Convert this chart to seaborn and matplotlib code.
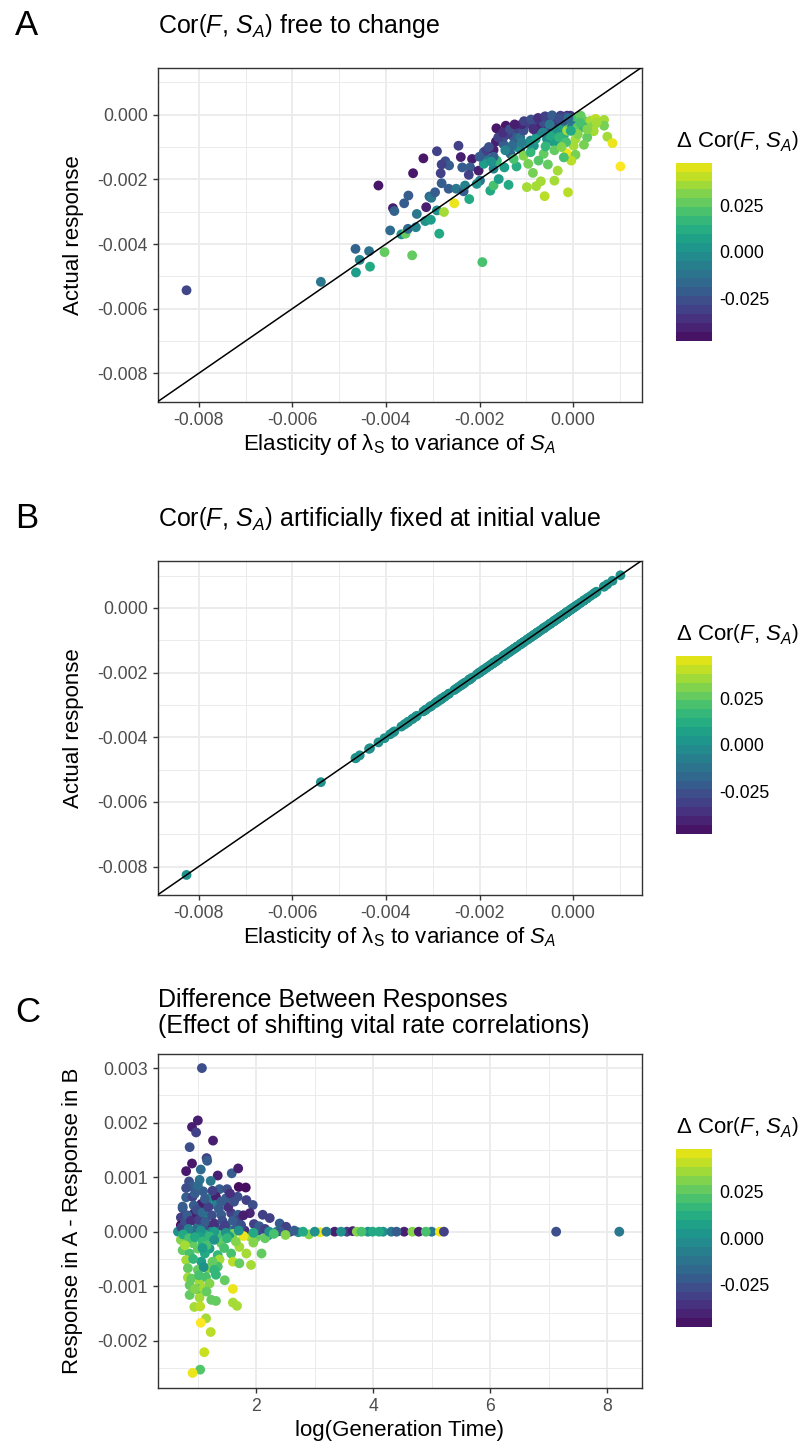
import numpy as np
import pandas as pd
import matplotlib
matplotlib.use('Agg')
import matplotlib.pyplot as plt
from matplotlib.colors import ListedColormap, Normalize
from matplotlib.ticker import MultipleLocator, FormatStrFormatter
import seaborn as sns

# ---------------------------------------------------------------------------
# Data
# ---------------------------------------------------------------------------

# Panel A: elasticity (x), actual response (y), change in Cor(F, S_A) (colour)
a_elasticity = [
    -0.00826, -0.00539, -0.00465, -0.00436, -0.00456, -0.00464, -0.00434, -0.00403,
    -0.00344, -0.00194, -0.00286, -0.00391, -0.00367, -0.00358, -0.00353, -0.00336,
    -0.00316, -0.00304, -0.00334, -0.00385, -0.00382, -0.00361, -0.00352, -0.00314,
    -0.00307, -0.00303, -0.00295, -0.00291, -0.00276, -0.00254, -0.00416, -0.00342,
    -0.00320, -0.00291, -0.00245, -0.00240, -0.00216, -0.00273, -0.00265, -0.00281,
    -0.00283, -0.00281, -0.00266, -0.00250, -0.00234, -0.00231, -0.00237, -0.00220,
    -0.00223, -0.00222, -0.00202, -0.00199, -0.00206, -0.00177, -0.00170, -0.00159,
    -0.00138, -0.00099, -0.00079, -0.00061, -0.00011, -0.00040, -0.00069, -0.00033,
    -0.00086, -0.00054, -0.00096, -0.00121, -0.00147, -0.00170, -0.00184, -0.00191,
    -0.00186, -0.00170, -0.00165, -0.00164, -0.00144, -0.00120, -0.00120, -0.00099,
    -0.00081, -0.00049, -0.00027, -0.00006, -0.00049, -0.00063, -0.00149, -0.00134,
    -0.00113, -0.00091, -0.00077, -0.00056, -0.00041, -0.00020, -0.00027, -0.00013,
    -0.00013, 0.00001, 0.00016, 0.00023, 0.00037, 0.00044, 0.00048, 0.00066,
    0.00066, 0.00044, 0.00030, 0.00023, 0.00005, 0.00001, -0.00014, 0.00005,
    -0.00004, -0.00020, 0.00073, 0.00084, 0.00101, -0.00063, -0.00059, -0.00034,
    -0.00084, -0.00106, -0.00127, -0.00163, -0.00191, -0.00149, -0.00127, -0.00113,
    -0.00106, -0.00077, -0.00070, -0.00063, -0.00041, -0.00020, -0.00013, -0.00038,
    -0.00049, -0.00002, 0.00009, 0.00023, -0.00091, -0.00074, -0.00035, -0.00015,
    -0.00085, -0.00110, -0.00140, -0.00170, -0.00120,
    -0.00160, -0.00150, -0.00135, -0.00125, -0.00105, -0.00090, -0.00075, -0.00060,
    -0.00045, -0.00030, -0.00010, -0.00050, -0.00065, -0.00080, -0.00095, -0.00110,
    -0.00130, -0.00145, -0.00030, -0.00015, 0.00010, 0.00015, 0.00030, -0.00005,
    -0.00040, -0.00025, 0.00050, -0.00180, -0.00200, -0.00175,
]
a_response = [
    -0.00543, -0.00517, -0.00415, -0.00422, -0.00449, -0.00488, -0.00470, -0.00425,
    -0.00435, -0.00456, -0.00368, -0.00358, -0.00370, -0.00368, -0.00353, -0.00348,
    -0.00329, -0.00325, -0.00307, -0.00289, -0.00298, -0.00274, -0.00250, -0.00286,
    -0.00253, -0.00257, -0.00240, -0.00296, -0.00301, -0.00274, -0.00219, -0.00181,
    -0.00135, -0.00113, -0.00096, -0.00131, -0.00137, -0.00144, -0.00157, -0.00154,
    -0.00181, -0.00212, -0.00229, -0.00229, -0.00237, -0.00219, -0.00163, -0.00163,
    -0.00186, -0.00261, -0.00173, -0.00204, -0.00214, -0.00235, -0.00219, -0.00199,
    -0.00217, -0.00224, -0.00221, -0.00252, -0.00240, -0.00204, -0.00206, -0.00173,
    -0.00180, -0.00154, -0.00152, -0.00160, -0.00163, -0.00167, -0.00137, -0.00116,
    -0.00111, -0.00109, -0.00083, -0.00042, -0.00034, -0.00049, -0.00085, -0.00029,
    -0.00034, -0.00008, -0.00003, -0.00003, -0.00044, -0.00049, -0.00091, -0.00121,
    -0.00106, -0.00080, -0.00060, -0.00075, -0.00085, -0.00065, -0.00039, -0.00049,
    -0.00024, -0.00013, -0.00003, -0.00019, -0.00019, -0.00034, -0.00013, -0.00016,
    -0.00034, -0.00051, -0.00070, -0.00093, -0.00075, -0.00096, -0.00119, -0.00124,
    -0.00142, -0.00132, -0.00068, -0.00088, -0.00160, -0.00121, -0.00098, -0.00096,
    -0.00096, -0.00127, -0.00137, -0.00142, -0.00152, -0.00070, -0.00070, -0.00070,
    -0.00049, -0.00029, -0.00039, -0.00024, -0.00024, -0.00019, -0.00003, -0.00054,
    -0.00065, -0.00034, -0.00039, -0.00039, -0.00116, -0.00142, -0.00010, -0.00008,
    -0.00045, -0.00030, -0.00060, -0.00130, -0.00100,
    -0.00070, -0.00055, -0.00045, -0.00030, -0.00020, -0.00015, -0.00010, -0.00005,
    -0.00002, -0.00012, -0.00010, -0.00030, -0.00055, -0.00075, -0.00090, -0.00085,
    -0.00095, -0.00110, -0.00070, -0.00085, -0.00060, -0.00025, -0.00045, -0.00050,
    -0.00110, -0.00100, -0.00025, -0.00100, -0.00130, -0.00145,
]
a_delta_cor = [
    -0.028, -0.010, -0.018, -0.012, -0.005, 0.005, 0.010, 0.025,
    0.025, 0.020, 0.010, -0.015, 0.000, 0.025, -0.015, -0.005,
    0.000, 0.005, -0.010, -0.040, -0.018, -0.020, -0.020, -0.040,
    -0.015, -0.010, -0.020, 0.000, 0.035, 0.045, -0.042, -0.042,
    -0.042, -0.030, -0.030, -0.040, -0.040, -0.025, -0.020, -0.030,
    -0.030, -0.020, -0.020, -0.010, -0.020, -0.005, -0.020, -0.020,
    -0.030, 0.010, -0.040, -0.010, 0.000, 0.010, 0.020, 0.005,
    0.010, 0.035, 0.035, 0.038, 0.038, 0.035, 0.035, 0.035,
    0.028, 0.025, 0.028, 0.012, 0.005, -0.005, -0.010, -0.020,
    -0.030, -0.040, -0.040, -0.042, -0.042, -0.030, -0.040, -0.030,
    -0.040, -0.030, -0.030, -0.032, -0.040, -0.020, -0.020, -0.018,
    -0.010, -0.005, -0.010, 0.000, 0.005, 0.012, 0.005, 0.035,
    0.025, 0.020, 0.025, 0.025, 0.035, 0.030, 0.038, 0.035,
    0.028, 0.035, 0.025, 0.028, 0.035, 0.035, 0.045, 0.028,
    0.038, 0.020, 0.035, 0.045, 0.048, 0.025, 0.015, 0.005,
    0.000, 0.030, 0.020, 0.015, 0.005, -0.025, -0.020, -0.012,
    -0.025, -0.030, -0.038, -0.025, -0.032, -0.020, -0.035, 0.000,
    0.010, -0.010, 0.025, 0.015, 0.015, 0.022, -0.030, -0.025,
    -0.035, -0.038, -0.030, -0.020, 0.000,
    -0.030, -0.035, -0.025, -0.040, -0.030, -0.025, -0.035, -0.030,
    -0.020, -0.025, -0.015, -0.010, -0.005, 0.005, 0.000, -0.008,
    -0.015, -0.005, 0.015, 0.020, 0.030, 0.020, 0.030, 0.010,
    0.025, 0.030, 0.035, -0.025, -0.020, 0.000,
]

# Panel B: same species, correlation held fixed -> points sit on the 1:1 line
b_elasticity = a_elasticity
b_response = a_elasticity
b_delta_cor = [0.0] * len(b_elasticity)

# Panel C: log generation time (x), response A - response B (y), colour as in A
c_log_gen_time = [
    1.07, 1.00, 0.90, 0.97, 1.26, 0.86, 1.15, 1.16, 0.90, 0.80, 1.05, 1.34,
    1.58, 1.69, 1.03, 1.22, 0.85, 1.70, 1.82, 1.37, 1.50, 0.89, 1.09, 1.20,
    0.80, 0.91, 1.31, 1.48, 1.68, 1.83, 1.94, 1.06, 1.31, 0.74, 0.94, 1.14,
    1.40, 1.57, 1.69, 1.89, 2.11, 2.23, 0.74, 0.71, 0.91, 0.71, 1.17, 1.00,
    1.31, 1.54, 1.69, 2.40, 2.51, 0.66, 0.86, 1.89, 2.00, 2.20, 2.35, 0.75,
    0.95, 1.10, 1.25, 1.45, 1.65, 1.80, 2.05, 1.12, 1.35, 1.60, 1.78,
    0.72, 0.78, 0.82, 0.88, 0.93, 0.98, 1.02, 1.08, 1.13, 1.18, 1.24, 1.28,
    1.36, 1.42, 1.47, 1.52, 1.60, 1.74, 1.78, 1.96, 2.05, 2.15, 0.80, 0.95,
    1.00, 1.12, 1.25, 1.40, 1.55, 1.62, 0.84, 1.05, 1.28, 1.48, 1.70, 1.95,
    0.71, 0.91, 1.03, 1.20, 1.40, 1.54, 1.71, 0.74, 1.00, 1.20, 1.34, 1.57,
    1.83, 2.09, 0.86, 0.80, 1.06, 1.37, 1.60, 1.71, 1.91, 0.83, 1.00, 1.17,
    1.34, 0.83, 0.89, 1.03, 1.14, 1.31, 1.46, 0.86, 1.01, 1.09, 1.60, 0.86,
    1.03, 1.23, 1.31, 1.60, 1.67, 0.94, 1.04, 1.14, 1.05, 1.22, 1.11, 1.04,
    0.91,
    0.75, 0.85, 0.95, 1.08, 1.15, 1.28, 1.45, 1.50, 1.65, 1.95, 2.15, 0.92,
    1.12, 1.25, 0.78, 1.10, 1.02, 1.20, 0.95, 1.15, 1.28, 1.08,
    2.22, 2.40, 2.58, 2.72, 2.90, 3.09, 3.34, 3.55, 3.65, 3.72, 3.91, 3.99,
    4.17, 4.31, 4.53, 4.67, 4.78, 5.00, 5.14, 5.21, 7.13, 8.21, 2.30, 2.50,
    2.65, 2.80, 3.00, 3.20, 3.45, 3.80, 4.10, 4.40, 4.90,
]
c_diff = [
    0.00300, 0.00204, 0.00192, 0.00182, 0.00167, 0.00155, 0.00135, 0.00130,
    0.00125, 0.00111, 0.00114, 0.00103, 0.00107, 0.00116, 0.00095, 0.00093,
    0.00092, 0.00082, 0.00081, 0.00078, 0.00078, 0.00083, 0.00074, 0.00061,
    0.00063, 0.00064, 0.00064, 0.00061, 0.00064, 0.00058, 0.00049, 0.00051,
    0.00049, 0.00043, 0.00034, 0.00028, 0.00031, 0.00034, 0.00031, 0.00034,
    0.00031, 0.00025, 0.00046, 0.00026, 0.00031, 0.00012, 0.00009, 0.00012,
    0.00006, 0.00003, 0.00021, 0.00015, 0.00009, 0.00000, -0.00003, -0.00009,
    -0.00010, -0.00007, 0.00000, 0.00005, 0.00002, 0.00005, 0.00002, 0.00008,
    0.00005, 0.00002, 0.00003, -0.00005, -0.00006, -0.00004, -0.00008,
    0.00008, 0.00018, 0.00030, 0.00020, 0.00048, 0.00040, 0.00022, 0.00035,
    0.00018, 0.00045, 0.00030, 0.00015, 0.00042, 0.00020, 0.00012, 0.00045,
    0.00020, 0.00012, 0.00030, 0.00014, 0.00010, 0.00005, 0.00080, 0.00070,
    0.00085, 0.00060, 0.00075, 0.00055, 0.00070, 0.00055, 0.00005, 0.00002,
    0.00000, -0.00002, 0.00002, -0.00002,
    -0.00015, -0.00021, -0.00009, -0.00009, -0.00021, -0.00009, -0.00028,
    -0.00034, -0.00031, -0.00031, -0.00043, -0.00040, -0.00040, -0.00040,
    -0.00040, -0.00052, -0.00055, -0.00051, -0.00055, -0.00058, -0.00061,
    -0.00067, -0.00070, -0.00067, -0.00064, -0.00084, -0.00086, -0.00092,
    -0.00083, -0.00079, -0.00089, -0.00098, -0.00106, -0.00104, -0.00105,
    -0.00116, -0.00121, -0.00125, -0.00127, -0.00130, -0.00136, -0.00138,
    -0.00137, -0.00159, -0.00167, -0.00184, -0.00221, -0.00253, -0.00259,
    -0.00005, -0.00012, -0.00010, -0.00018, -0.00025, -0.00015, -0.00030, -0.00012,
    -0.00018, -0.00020, -0.00012, -0.00050, -0.00040, -0.00055, -0.00025, -0.00065,
    -0.00080, -0.00095, -0.00105, -0.00110, -0.00070, -0.00030,
    0.00000, 0.00001, 0.00000, -0.00001, -0.00005, -0.00001, 0.00000, 0.00000,
    0.00001, 0.00000, 0.00000, 0.00000, 0.00000, 0.00000, 0.00000, 0.00000,
    0.00000, 0.00000, 0.00000, 0.00000, 0.00000, 0.00000, -0.00004, -0.00006,
    0.00002, 0.00000, 0.00000, 0.00000, 0.00000, 0.00000, 0.00000, 0.00000,
    0.00000,
]
c_delta_cor = [
    -0.025, -0.040, -0.040, -0.030, -0.040, -0.025, -0.030, -0.020, -0.042, -0.042,
    -0.015, -0.040, -0.020, -0.040, -0.012, -0.010, -0.025, -0.045, -0.045, -0.020,
    -0.025, -0.020, -0.020, -0.005, -0.020, -0.030, -0.040, -0.020, -0.025, -0.030,
    -0.025, -0.040, -0.005, -0.025, -0.040, 0.000, -0.020, -0.030, -0.020, -0.038,
    -0.030, -0.030, -0.020, -0.030, -0.040, -0.045, -0.040, -0.010, -0.025, -0.005,
    -0.030, -0.020, -0.030, 0.000, 0.005, 0.035, 0.025, 0.000, 0.000, -0.010,
    -0.015, -0.025, -0.010, -0.030, -0.020, -0.035, -0.025, 0.010, 0.020, 0.030,
    0.045,
    -0.030, -0.025, -0.020, -0.035, -0.020, -0.025, -0.030, -0.015, -0.020, -0.030,
    -0.025, -0.035, -0.020, -0.025, -0.030, -0.035, -0.020, -0.025, -0.040, -0.030,
    -0.020, -0.030, -0.025, -0.020, -0.015, -0.020, -0.030, -0.020, -0.035, -0.025,
    -0.005, 0.000, 0.005, 0.000, 0.000, 0.010,
    0.030, 0.025, 0.005, 0.015, 0.025, 0.005, 0.035, 0.025, 0.025, 0.005,
    0.015, 0.020, 0.035, 0.025, 0.020, 0.035, 0.005, 0.035, 0.038, 0.025,
    0.035, 0.025, 0.025, 0.030, 0.020, 0.035, 0.025, 0.035, 0.020, 0.015,
    0.025, 0.025, 0.015, 0.035, 0.045, 0.025, 0.035, 0.025, 0.025, 0.035,
    0.035, 0.035, 0.038, 0.035, 0.048, 0.038, 0.040, 0.022, 0.045,
    0.010, 0.020, 0.010, 0.015, 0.020, 0.000, 0.020, 0.015, 0.030, 0.030,
    0.025, 0.015, 0.010, 0.025, 0.035, 0.000, 0.020, 0.030, 0.030, 0.025,
    0.015, 0.005,
    0.000, -0.020, -0.030, 0.000, 0.030, 0.045, -0.040, -0.030, -0.040, 0.030,
    0.000, 0.010, 0.000, -0.010, -0.040, 0.030, -0.040, -0.010, 0.045, -0.030,
    -0.025, -0.010, 0.020, 0.030, -0.020, 0.010, 0.000, -0.010, 0.000, 0.020,
    0.010, -0.020, 0.020,
]

# colour scale limits (range of the change in correlation)
HUE_MIN, HUE_MAX = -0.048, 0.048
legend_ticks = [-0.025, 0.000, 0.025]

# ---------------------------------------------------------------------------
# Style (ggplot theme_bw look)
# ---------------------------------------------------------------------------
sns.set_style('white')
plt.rcParams['font.family'] = ['Liberation Sans', 'DejaVu Sans']
plt.rcParams['mathtext.fontset'] = 'custom'
plt.rcParams['mathtext.rm'] = 'Liberation Sans'
plt.rcParams['mathtext.it'] = 'Liberation Sans:italic'
plt.rcParams['mathtext.bf'] = 'Liberation Sans:bold'
plt.rcParams['axes.unicode_minus'] = False
plt.rcParams['text.color'] = 'black'

W, H = 809, 1446
fig = plt.figure(figsize=(W / 100, H / 100), dpi=100)

PLOT_L, PLOT_R, PLOT_H = 157.5, 641.5, 334.3
PANEL_STEP = 493.2
TICK_SIZE = 12.7
LAB_SIZE = 16
TITLE_SIZE = 18
POINT_SIZE = 50


def ftext(x, y, s, **kw):
    # place text using pixel coordinates measured from the top-left corner
    fig.text(x / W, 1 - y / H, s, color='black', **kw)


def add_axes(top):
    return fig.add_axes([PLOT_L / W, 1 - (top + PLOT_H) / H,
                         (PLOT_R - PLOT_L) / W, PLOT_H / H])


def style_axes(ax, xmaj, xmin, ymaj, ymin, xfmt, yfmt):
    ax.xaxis.set_major_locator(MultipleLocator(xmaj))
    ax.xaxis.set_minor_locator(MultipleLocator(xmin))
    ax.yaxis.set_major_locator(MultipleLocator(ymaj))
    ax.yaxis.set_minor_locator(MultipleLocator(ymin))
    ax.xaxis.set_major_formatter(FormatStrFormatter(xfmt))
    ax.yaxis.set_major_formatter(FormatStrFormatter(yfmt))
    ax.grid(which='major', color='#EBEBEB', lw=1.3)
    ax.grid(which='minor', color='#EBEBEB', lw=0.7)
    ax.set_axisbelow(True)
    ax.tick_params(which='major', direction='out', length=3.6, width=1.0,
                   color='#333333', labelcolor='#4D4D4D', labelsize=TICK_SIZE,
                   bottom=True, left=True, pad=3.5)
    ax.tick_params(which='minor', length=0)
    for sp in ax.spines.values():
        sp.set_color('#333333')
        sp.set_linewidth(1.0)
    ax.set_xlabel('')
    ax.set_ylabel('')


def add_colorbar(top):
    cax = fig.add_axes([676 / W, 1 - (top + 273.2) / H, 36 / W, 178 / H])
    band_cmap = ListedColormap(sns.color_palette('viridis', 20))
    sm = plt.cm.ScalarMappable(norm=Normalize(HUE_MIN, HUE_MAX), cmap=band_cmap)
    cb = fig.colorbar(sm, cax=cax, ticks=legend_ticks)
    cb.outline.set_visible(False)
    cax.yaxis.set_major_formatter(FormatStrFormatter('%.3f'))
    cax.minorticks_off()
    cax.tick_params(which='major', direction='in', length=7, width=1.1,
                    color='white', left=True, right=True, labelleft=False,
                    labelright=True, labelsize=TICK_SIZE, labelcolor='black',
                    pad=5.5)
    ftext(676, top + 79.5, r'$\Delta\ \mathrm{Cor}\left(F,\,S_A\right)$',
          fontsize=LAB_SIZE, ha='left', va='baseline')


lim_ab = (-0.00888, 0.00146)
x_label_ab = r'Elasticity of $\mathrm{\lambda}_{\mathrm{S}}$ to variance of $S_A$'
panels = [
    ('A', r'Cor$\left(F,\,S_A\right)$ free to change',
     a_elasticity, a_response, a_delta_cor),
    ('B', r'Cor$\left(F,\,S_A\right)$ artificially fixed at initial value',
     b_elasticity, b_response, b_delta_cor),
]

for i, (letter, title, xs, ys, hue) in enumerate(panels):
    top = 67.5 + i * PANEL_STEP
    ax = add_axes(top)
    df = pd.DataFrame({'x': xs, 'y': ys, 'delta': hue})
    sns.scatterplot(data=df, x='x', y='y', hue='delta', palette='viridis',
                    hue_norm=(HUE_MIN, HUE_MAX), s=POINT_SIZE, linewidth=0,
                    legend=False, ax=ax, zorder=2)
    ax.axline((0, 0), slope=1, color='black', lw=1.1, zorder=3)
    ax.set_xlim(lim_ab)
    ax.set_ylim(lim_ab)
    style_axes(ax, 0.002, 0.001, 0.002, 0.001, '%.3f', '%.3f')
    ftext(15, top - 32.5, letter, fontsize=25, ha='left', va='baseline')
    ftext(158, top - 34.8, title, fontsize=TITLE_SIZE, ha='left', va='baseline')
    ftext((PLOT_L + PLOT_R) / 2, top + 382.5, x_label_ab, fontsize=LAB_SIZE,
          ha='center', va='baseline')
    ftext(73, top + PLOT_H / 2, 'Actual response', fontsize=LAB_SIZE,
          rotation=90, ha='center', va='center')
    add_colorbar(top)

# Panel C
top = 67.5 + 2 * PANEL_STEP
ax = add_axes(top)
df_c = pd.DataFrame({'x': c_log_gen_time, 'y': c_diff, 'delta': c_delta_cor})
sns.scatterplot(data=df_c, x='x', y='y', hue='delta', palette='viridis',
                hue_norm=(HUE_MIN, HUE_MAX), s=POINT_SIZE, linewidth=0,
                legend=False, ax=ax, zorder=2)
ax.set_xlim(0.31, 8.59)
ax.set_ylim(-0.00287, 0.00326)
style_axes(ax, 2, 1, 0.001, 0.0005, '%d', '%.3f')
ftext(15, top - 32.0, 'C', fontsize=25, ha='left', va='baseline')
ftext(158, top - 47.3, 'Difference Between Responses', fontsize=TITLE_SIZE,
      ha='left', va='baseline')
ftext(158, top - 21.3, '(Effect of shifting vital rate correlations)',
      fontsize=TITLE_SIZE, ha='left', va='baseline')
ftext((PLOT_L + PLOT_R) / 2, top + 382.5, 'log(Generation Time)',
      fontsize=LAB_SIZE, ha='center', va='baseline')
ftext(73, top + PLOT_H / 2, 'Response in A - Response in B', fontsize=LAB_SIZE,
      rotation=90, ha='center', va='center')
add_colorbar(top)

fig.savefig('out.png', dpi=100, facecolor='white')
